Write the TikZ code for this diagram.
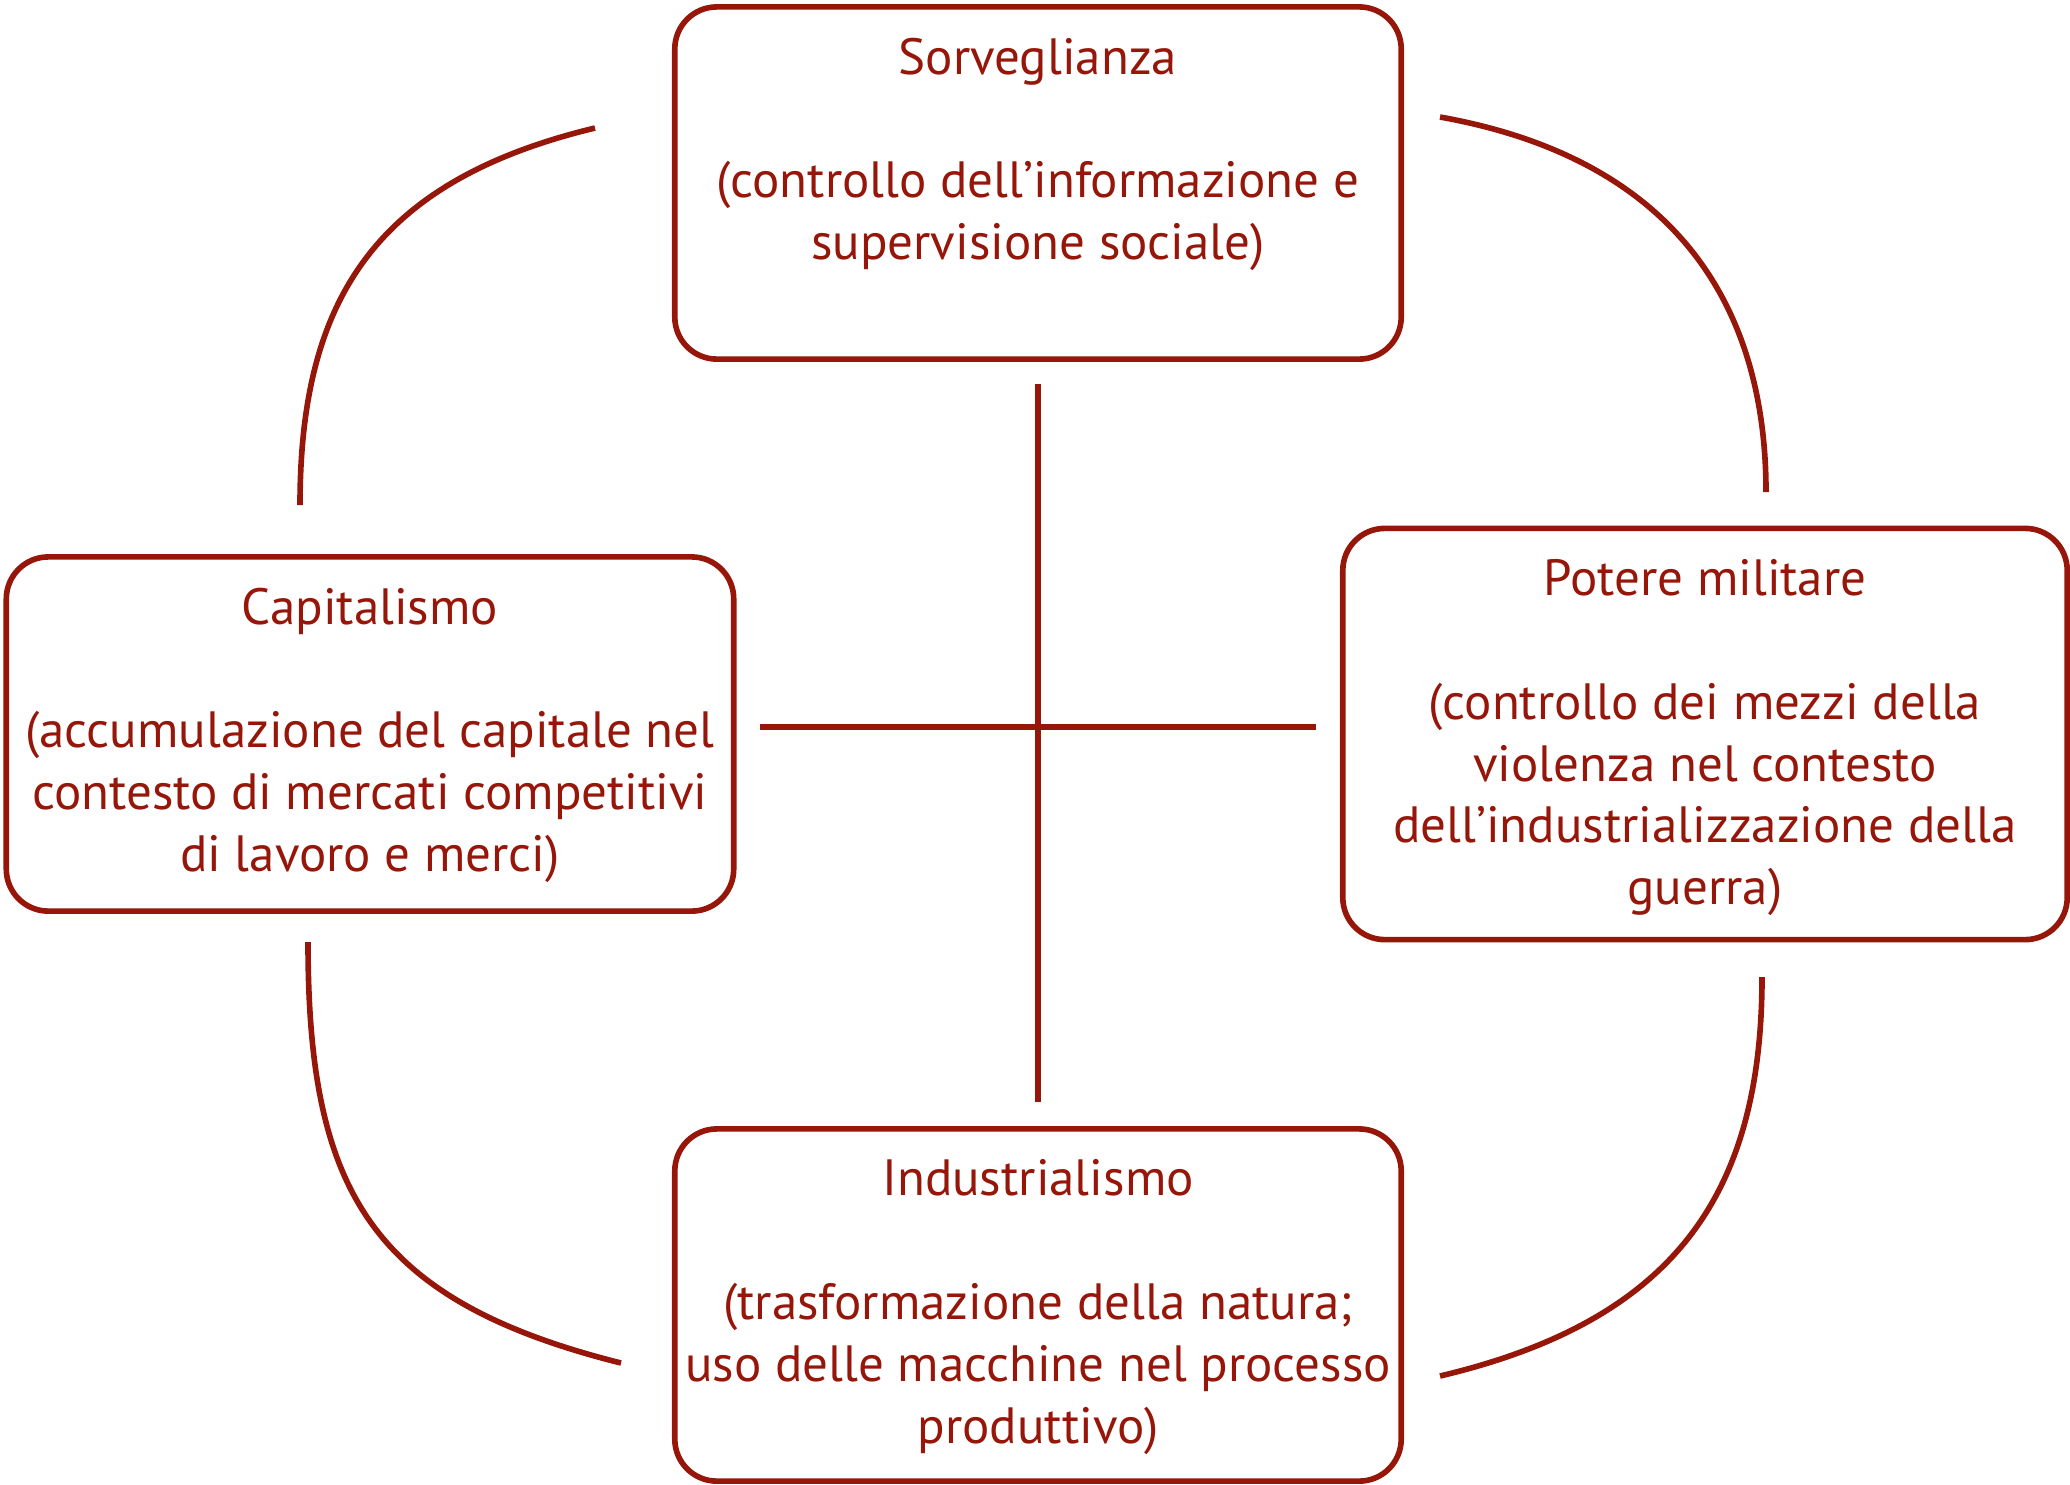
\documentclass[tikz,border=0pt]{standalone}
\usepackage{fontspec}
\setmainfont{PT Sans}
\usetikzlibrary{positioning}
\definecolor{rotbraun}{RGB}{150,22,10}
\tikzset{
  kasten/.style={draw=rotbraun, line width=1.6pt, rounded corners=0.42cm},
  inhalt/.style={text=rotbraun, align=center, inner sep=0pt,
    font=\fontsize{14.5pt}{17.6pt}\selectfont},
  bogen/.style={draw=rotbraun, line width=1.6pt}
}
\begin{document}
\begin{tikzpicture}[x=0.01cm,y=-0.01cm]

  \useasboundingbox (0,0) rectangle (2070,1484);

  % Kästen
  \node[kasten, minimum width=7.26cm, minimum height=3.52cm] (surv) at (1038,183) {};
  \node[kasten, minimum width=7.27cm, minimum height=3.54cm] (capi) at (370,734) {};
  \node[kasten, minimum width=7.24cm, minimum height=4.11cm] (mili) at (1705,734) {};
  \node[kasten, minimum width=7.26cm, minimum height=3.52cm] (indu) at (1038,1305) {};

  % Texte
  \node[inhalt, below=0.33cm of surv.north] (survtext)
    {Sorveglianza\\[17.6pt](controllo dell’informazione e\\supervisione sociale)};
  \node[inhalt, below=0.33cm of capi.north] (capitext)
    {Capitalismo\\[17.6pt](accumulazione del capitale nel\\contesto di mercati competitivi\\di lavoro e merci)};
  \node[inhalt, below=0.33cm of mili.north] (militext)
    {Potere militare\\[17.6pt](controllo dei mezzi della\\violenza nel contesto\\dell’industrializzazione della\\guerra)};
  \node[inhalt, below=0.33cm of indu.north] (indutext)
    {Industrialismo\\[17.6pt](trasformazione della natura;\\uso delle macchine nel processo\\produttivo)};

  % Kreuz in der Mitte
  \coordinate (kreuzO) at (1038,384);
  \coordinate (kreuzU) at (1038,1102);
  \coordinate (kreuzL) at (760,727);
  \coordinate (kreuzR) at (1316,727);
  \draw[bogen] (kreuzO) -- (kreuzU);
  \draw[bogen] (kreuzL) -- (kreuzR);

  % Bögen
  \coordinate (olA) at (595,128);   \coordinate (olB) at (300,505);
  \coordinate (orA) at (1440,117);  \coordinate (orB) at (1766,492);
  \coordinate (ulA) at (308,942);   \coordinate (ulB) at (621,1363);
  \coordinate (urA) at (1762,977);  \coordinate (urB) at (1440,1376);

  \draw[bogen] (olA) .. controls (375,181) and (300,300) .. (olB);
  \draw[bogen] (orA) .. controls (1675,159) and (1766,305) .. (orB);
  \draw[bogen] (ulA) .. controls (308,1190) and (370,1300) .. (ulB);
  \draw[bogen] (urA) .. controls (1762,1197) and (1672,1321) .. (urB);

\end{tikzpicture}
\end{document}
